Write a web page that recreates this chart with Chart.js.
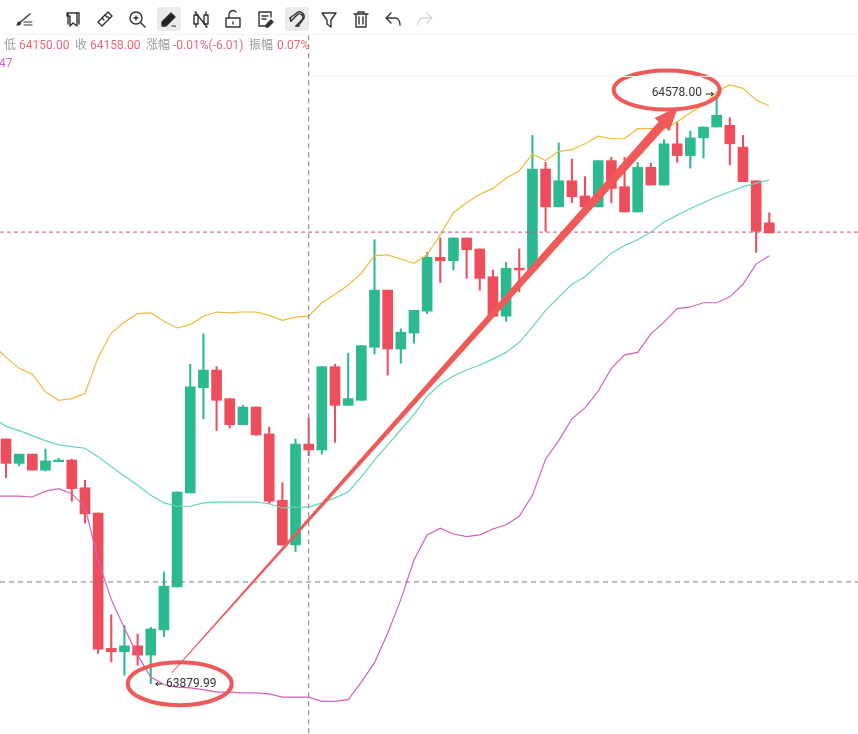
<!DOCTYPE html>
<html>
<head>
<meta charset="utf-8">
<script src="https://cdn.jsdelivr.net/npm/chart.js@4"></script>
<style>
html,body{margin:0;padding:0;background:#fff;width:858px;height:734px;overflow:hidden}
#wrap{position:relative;width:858px;height:734px;font-family:Roboto,"Noto Sans CJK SC",sans-serif}
canvas{position:absolute;left:0;top:0}
#bar{position:absolute;left:0;top:0;width:858px;height:34px;background:#fff;border-bottom:1px solid #f2f2f2}
.box{position:absolute;top:7px;width:24px;height:24px;background:#ebebeb;border-radius:3px}
svg.i{position:absolute;top:9px;width:20px;height:20px;fill:none;stroke:#333;stroke-width:1.4;stroke-linejoin:round;stroke-linecap:round}
.t{position:absolute;top:37px;font-size:12px;line-height:16px;white-space:nowrap}
.g{color:#9c9c9c}.r{color:#e8687a}
#gl{position:absolute;left:310px;top:76px;width:548px;height:1px;background:#f5f5f5}
</style>
</head>
<body>
<div id="wrap">
<canvas id="c" width="858" height="734"></canvas>
<div id="gl"></div>
<div id="bar">
<div class="box" style="left:157px"></div>
<div class="box" style="left:285px"></div>
<svg class="i" style="left:14px" viewBox="0 0 20 20"><path d="M3 16L16 5"/><path d="M10 13h8M10 16h8" stroke-width="1.2"/><circle cx="5" cy="14.5" r="1.2" fill="#333"/></svg>
<svg class="i" style="left:63px" viewBox="0 0 20 20"><path d="M4 4h10v13l-4-3-3 3V7H4z"/><path d="M5 4v11" /><path d="M14 4h2v11"/></svg>
<svg class="i" style="left:95px" viewBox="0 0 20 20"><path d="M3 13L13 3l4 4L7 17z"/><path d="M7 9l2 2M10 6l2 2M13 8l1 1"/></svg>
<svg class="i" style="left:127px" viewBox="0 0 20 20"><circle cx="9" cy="9" r="6"/><path d="M13.5 13.5L18 18"/><path d="M9 7v4M7 9h4"/></svg>
<svg class="i" style="left:159px" viewBox="0 0 20 20"><path d="M3 13L12 4l4 4-9 9H3z" fill="#222"/><path d="M13 17c1.5-1 2 1 3.5 0" stroke-width="1.1"/></svg>
<svg class="i" style="left:191px" viewBox="0 0 20 20"><rect x="3" y="6" width="4" height="9"/><rect x="13" y="6" width="4" height="9"/><path d="M5 3v3M5 15v3M15 3v3M15 15v3M4 3l12 15" /></svg>
<svg class="i" style="left:223px" viewBox="0 0 20 20"><rect x="3" y="9" width="14" height="9"/><path d="M6 9V5a4 4 0 0 1 7-2"/><path d="M10 13v2"/></svg>
<svg class="i" style="left:255px" viewBox="0 0 20 20"><path d="M16 8V3H4v14h6"/><path d="M7 7h6M7 10h4"/><path d="M11 16l5-5 2 2-5 5h-2z" fill="#333"/></svg>
<svg class="i" style="left:287px" viewBox="0 0 20 20"><path d="M4 12l6-6a3.5 3.5 0 0 1 5 5l-6 6" stroke-width="1.5"/><path d="M3 9l8-6c3-1 7 2 6 6l-6 8"/><path d="M3 9l1 3M9 17l3 0"/></svg>
<svg class="i" style="left:319px" viewBox="0 0 20 20"><path d="M3 4h14l-5 7v7l-4-3v-4z"/></svg>
<svg class="i" style="left:351px" viewBox="0 0 20 20"><path d="M3 5h14M7 5V3h6v2M5 5v13h10V5M8 8v7M12 8v7"/></svg>
<svg class="i" style="left:383px" viewBox="0 0 20 20"><path d="M8 4L3 9l5 5M3 9h9c3 0 5 3 5 7"/></svg>
<svg class="i" style="left:415px;stroke:#d8d8d8" viewBox="0 0 20 20"><path d="M12 4l5 5-5 5M17 9H8c-3 0-5 3-5 7"/></svg>
</div>
<span class="t g" style="left:4px">低</span><span class="t r" style="left:19px">64150.00</span>
<span class="t g" style="left:75px">收</span><span class="t r" style="left:90px">64158.00</span>
<span class="t g" style="left:146px">涨幅</span><span class="t r" style="left:173px">-0.01%(-6.01)</span>
<span class="t g" style="left:249px">振幅</span><span class="t r" style="left:277px">0.07%</span>
<span class="t" style="left:-1px;top:55px;color:#dd66cc">47</span>
</div>
<script>
// Candles, oldest first
const opens=[64171,64142,64153,64134,64144,64146,64113,64083,63922,63918,63925,63914,63944,63995,64107,64232,64253,64219,64188,64209,64177,64098,64045,64165,64158,64257,64211,64217,64280,64348,64278,64297,64323,64387,64383,64410,64397,64364,64317,64374,64373,64492,64447,64478,64460,64447,64502,64471,64441,64494,64473,64522,64508,64529,64542,64544,64518,64478,64428];
const highs=[64171,64153,64153,64159,64148,64147,64122,64083,63962,63949,63939,63947,64013,64108,64260,64296,64257,64219,64211,64209,64185,64119,64171,64196,64257,64260,64273,64282,64408,64348,64302,64324,64393,64410,64410,64410,64397,64372,64381,64397,64532,64500,64523,64504,64483,64502,64506,64506,64500,64499,64527,64548,64537,64542,64578,64553,64532,64478,64440];
const lows=[64125,64139,64134,64133,64144,64097,64071,63916,63906,63890,63902,63880,63936,63995,64107,64195,64181,64184,64188,64175,64094,64045,64037,64151,64153,64167,64211,64217,64272,64247,64261,64285,64320,64357,64372,64362,64348,64317,64311,64346,64373,64418,64447,64452,64447,64447,64452,64441,64441,64473,64473,64500,64493,64505,64542,64497,64477,64393,64416];
const closes=[64142,64153,64134,64145,64146,64112,64082,63921,63918,63925,63914,63945,63996,64108,64233,64253,64217,64188,64209,64176,64097,64045,64165,64158,64257,64211,64219,64282,64348,64278,64298,64324,64387,64383,64410,64396,64362,64317,64374,64372,64492,64447,64478,64459,64447,64502,64469,64441,64494,64473,64522,64508,64529,64542,64556,64522,64477,64418,64416];
// Bollinger bands: one extra leading point, before the first candle
const upperBand=[64283,64268,64255,64248,64227,64217,64219,64225,64268,64297,64310,64320,64321,64311,64303,64307,64317,64322,64321,64322,64322,64318,64312,64316,64317,64333,64343,64354,64368,64389,64390,64385,64380,64390,64414,64440,64452,64462,64469,64481,64490,64510,64502,64513,64515,64522,64531,64528,64528,64540,64540,64540,64548,64559,64568,64584,64592,64588,64574,64567];
const midBand=[64196,64186,64181,64175,64169,64164,64162,64160,64150,64138,64127,64116,64104,64095,64091,64091,64095,64096,64096,64096,64096,64094,64089,64090,64090,64095,64101,64108,64126,64146,64164,64182,64200,64222,64236,64246,64253,64259,64266,64274,64286,64304,64324,64340,64355,64364,64378,64392,64401,64408,64417,64429,64437,64445,64452,64459,64465,64471,64475,64479];
const lowerBand=[64103,64103,64103,64102,64109,64112,64106,64090,64027,63980,63946,63914,63888,63879,63876,63875,63873,63870,63870,63869,63869,63868,63864,63864,63864,63859,63859,63861,63882,63905,63940,63980,64027,64057,64065,64058,64055,64057,64064,64069,64079,64104,64147,64169,64195,64208,64228,64255,64271,64274,64296,64310,64326,64328,64333,64333,64340,64355,64379,64389];
// Reference levels and marked extremes
const lastPrice=64417;
const crosshairPrice=64001;
const crosshairIndex=24;
const crosshairTop=64651;
const lowLabel='63879.99';
const highLabel='64578.00';
const lowMark={x:14.2,price:63880};
const highMark={x:51.2,price:64586};
const arrowTail={x:13.6,price:63893};
const arrowTip={x:52.06,price:64566};

const yMin=63820.2,yMax=64693,xMin=0.544,xMax=65.74;
const UP='#2bba8f',DOWN='#ee4e5c';
const colors=opens.map((o,i)=>closes[i]>=o?UP:DOWN);
const RED='#ef5a58';

const annotate={
  id:'annotate',
  afterDatasetsDraw(chart){
    const {ctx,scales:{x,y}}=chart;
    ctx.save();
    // long tapered arrow
    const ax=x.getPixelForValue(arrowTail.x),ay=y.getPixelForValue(arrowTail.price);
    const bx=x.getPixelForValue(arrowTip.x),by=y.getPixelForValue(arrowTip.price);
    const dx=bx-ax,dy=by-ay,L=Math.hypot(dx,dy),ux=dx/L,uy=dy/L,nx=-uy,ny=ux;
    const neck=L-24;
    const nkx=ax+ux*neck,nky=ay+uy*neck;
    ctx.fillStyle=RED;
    ctx.beginPath();
    ctx.moveTo(ax+nx*.5,ay+ny*.5);
    ctx.lineTo(nkx+nx*4.5,nky+ny*4.5);
    ctx.lineTo(nkx+nx*10,nky+ny*10);
    ctx.lineTo(bx,by);
    ctx.lineTo(nkx-nx*10,nky-ny*10);
    ctx.lineTo(nkx-nx*4.5,nky-ny*4.5);
    ctx.lineTo(ax-nx*.5,ay-ny*.5);
    ctx.closePath();
    ctx.fill();
    // ellipses
    ctx.strokeStyle=RED;ctx.lineWidth=4;
    ctx.beginPath();ctx.ellipse(x.getPixelForValue(lowMark.x),y.getPixelForValue(lowMark.price),52,21.5,0,0,Math.PI*2);ctx.stroke();
    ctx.beginPath();ctx.ellipse(x.getPixelForValue(highMark.x),y.getPixelForValue(highMark.price),53,19.5,0,0,Math.PI*2);ctx.stroke();
    // extreme labels
    ctx.fillStyle='#333';ctx.font='12px Roboto';ctx.textBaseline='middle';
    ctx.textAlign='left';ctx.fillText(lowLabel,166,683.5);
    ctx.textAlign='right';ctx.fillText(highLabel,702,92.5);
    ctx.strokeStyle='#222';ctx.lineWidth=1;
    ctx.beginPath();ctx.moveTo(162,684);ctx.lineTo(156,684);ctx.moveTo(158,682.3);ctx.lineTo(155.5,684);ctx.lineTo(158,685.7);ctx.stroke();
    ctx.beginPath();ctx.moveTo(706,94);ctx.lineTo(713,94);ctx.moveTo(711,92.3);ctx.lineTo(713.5,94);ctx.lineTo(711,95.7);ctx.stroke();
    ctx.restore();
  }
};

function band(values,color){
  return {type:'line',data:values.map((v,i)=>({x:i,y:v})),borderColor:color,borderWidth:1.2,pointRadius:0,tension:0,order:2};
}
function level(points,color,dash){
  return {type:'line',data:points,borderColor:color,borderWidth:1,borderDash:dash,pointRadius:0,order:1};
}
new Chart(document.getElementById('c'),{
  data:{datasets:[
    band(upperBand,'#f2b93a'),
    band(midBand,'#62d6b8'),
    band(lowerBand,'#d65fb9'),
    level([{x:xMin,y:lastPrice},{x:xMax,y:lastPrice}],'#c9556f',[4,3]),
    level([{x:xMin,y:crosshairPrice},{x:xMax,y:crosshairPrice}],'#7d7d7d',[5,4]),
    level([{x:crosshairIndex,y:crosshairTop},{x:crosshairIndex,y:yMin}],'#7d7d7d',[5,4]),
    {type:'bar',data:opens.map((o,i)=>({x:i+1,y:[o,closes[i]]})),backgroundColor:colors,barThickness:10,grouped:false,order:3},
    {type:'bar',data:lows.map((l,i)=>({x:i+1,y:[l,highs[i]]})),backgroundColor:colors,barThickness:1.4,grouped:false,order:4}
  ]},
  options:{
    responsive:false,animation:false,
    layout:{padding:0},
    plugins:{legend:{display:false},tooltip:{enabled:false}},
    scales:{
      x:{type:'linear',offset:false,min:xMin,max:xMax,display:false,grid:{display:false}},
      y:{type:'linear',min:yMin,max:yMax,display:false,grid:{display:false}}
    }
  },
  plugins:[annotate]
});
</script>
</body>
</html>
